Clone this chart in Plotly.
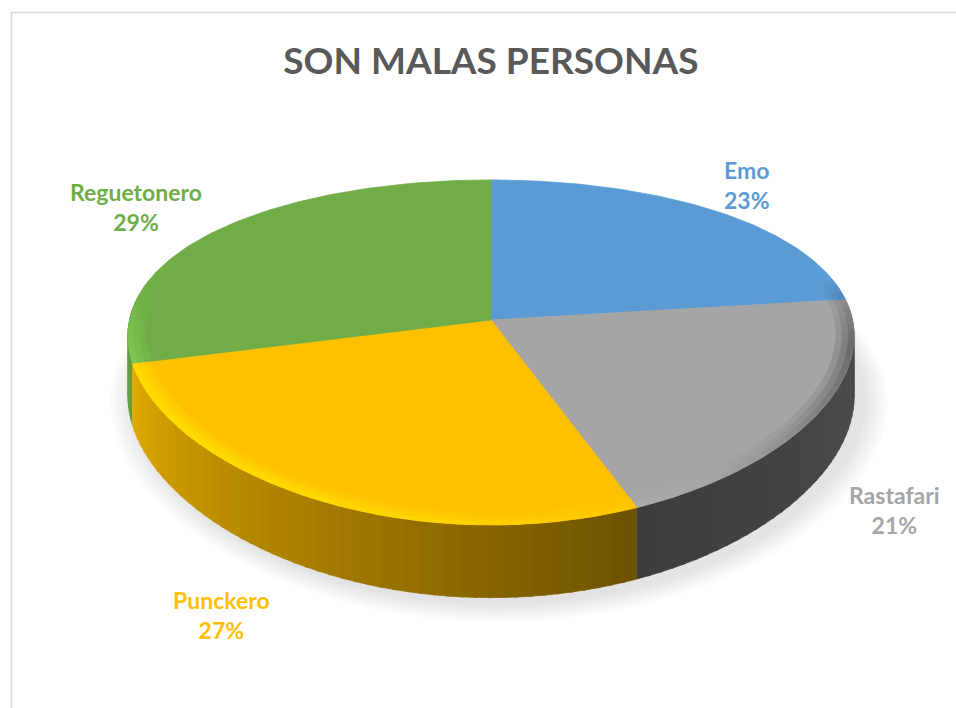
import numpy as np
import plotly.graph_objects as go

# ---- data ----
categories = ["Emo", "Rastafari", "Punckero", "Reguetonero"]
values = [23, 21, 27, 29]
colors = ["#5B9BD5", "#A5A5A5", "#FFC000", "#70AD47"]
title_text = "SON MALAS PERSONAS"

# ---- geometry / style ----
W, H = 956, 708
CX, CY = 491, 320          # projected pie centre (top face)
RX, RY = 361.5, 166.4      # radii of the top face
KX, KY = 0.094, 0.188      # perspective factors
DEPTH = 59                 # thickness of the pie
label_nudge = [(-9, 13), (2, -9), (-24, -4), (3, 16)]


def proj(phi_deg, r=1.0, h=0.0):
    p = np.radians(phi_deg)
    X = r * np.sin(p)
    Z = r * np.cos(p)
    sx = 1.0 / (1.0 + KX * Z)
    sy = 1.0 / (1.0 + KY * Z)
    return CX + RX * X * sx, CY - RY * Z * sy + h * sy


def rgb(hexcol):
    h = hexcol.lstrip("#")
    return [int(h[i:i + 2], 16) for i in (0, 2, 4)]


def shade(hexcol, f):
    c = [min(255, v * f) for v in rgb(hexcol)]
    return "rgb(%d,%d,%d)" % tuple(int(round(v)) for v in c)


def side_factor(phi):
    if phi < 158:
        return 0.37 + 0.10 * (158 - phi) / 68.0
    return min(0.9, 0.42 + 0.48 * (phi - 158) / 100.0)


total = float(sum(values))
bounds = [0.0]
for v in values:
    bounds.append(bounds[-1] + 360.0 * v / total)

fig = go.Figure()

# soft shadow under the pie
for i in range(7):
    grow = 1.0 + 0.01 * (i + 1)
    ph = np.linspace(0, 360, 181)
    xs, ys = proj(ph, grow, DEPTH + 4)
    xs = xs + 8
    fig.add_trace(go.Scatter(x=list(xs), y=list(ys), mode="lines", fill="toself",
                             fillcolor="rgba(0,0,0,0.016)", line=dict(width=0),
                             hoverinfo="skip", showlegend=False))

# side walls (back to front)
strips = []
step = 2.0
for i, (a0, a1) in enumerate(zip(bounds[:-1], bounds[1:])):
    lo, hi = max(a0, 84.0), min(a1, 276.0)
    if hi <= lo:
        continue
    n = max(1, int(np.ceil((hi - lo) / step)))
    edges = np.linspace(lo, hi, n + 1)
    for e0, e1 in zip(edges[:-1], edges[1:]):
        ph = np.linspace(e0 - 0.2 if e0 > lo else e0, e1 + 0.2 if e1 < hi else e1, 4)
        tx, ty = proj(ph, 1.0, 0.0)
        bx, by = proj(ph[::-1], 1.0, DEPTH)
        xs = list(tx) + list(bx)
        ys = list(ty) + list(by)
        mid = 0.5 * (e0 + e1)
        col = shade(colors[i], side_factor(mid))
        strips.append((np.cos(np.radians(mid)), xs, ys, col))

strips.sort(key=lambda t: -t[0])
for _, xs, ys, col in strips:
    fig.add_trace(go.Scatter(x=xs, y=ys, mode="lines", fill="toself", fillcolor=col,
                             line=dict(width=0.8, color=col), hoverinfo="skip",
                             showlegend=False))

# top faces
for i, (a0, a1) in enumerate(zip(bounds[:-1], bounds[1:])):
    ph = np.linspace(a0, a1, 80)
    rx, ry = proj(ph, 1.0, 0.0)
    xs = [CX] + list(rx) + [CX]
    ys = [CY] + list(ry) + [CY]
    fig.add_trace(go.Scatter(x=xs, y=ys, mode="lines", fill="toself", fillcolor=colors[i],
                             line=dict(width=0.8, color=colors[i]),
                             name=categories[i], hoverinfo="name", showlegend=False))

# bevel band on the rim of the top face
rings = [0.95, 0.967, 0.984, 1.0]
for i, (a0, a1) in enumerate(zip(bounds[:-1], bounds[1:])):
    lo, hi = max(a0, 75.0), min(a1, 285.0)
    if hi <= lo:
        continue
    n = max(1, int(np.ceil((hi - lo) / 3.0)))
    edges = np.linspace(lo, hi, n + 1)
    for e0, e1 in zip(edges[:-1], edges[1:]):
        mid = 0.5 * (e0 + e1)
        light = np.cos(np.radians(mid - 235.0))
        fade = min(1.0, min(mid - 75.0, 285.0 - mid) / 25.0)
        for j in range(3):
            t = (j + 1) / 3.0
            amp = 0.14 if light > 0 else 0.5
            f = 1.0 + amp * t * light * fade
            col = shade(colors[i], f)
            ph = np.linspace(e0 - 0.15 if e0 > lo else e0, e1 + 0.15 if e1 < hi else e1, 4)
            ix, iy = proj(ph, rings[j], 0.0)
            ox, oy = proj(ph[::-1], rings[j + 1], 0.0)
            fig.add_trace(go.Scatter(x=list(ix) + list(ox), y=list(iy) + list(oy),
                                     mode="lines", fill="toself", fillcolor=col,
                                     line=dict(width=0.5, color=col),
                                     hoverinfo="skip", showlegend=False))

# data labels
annotations = []
for i, (a0, a1) in enumerate(zip(bounds[:-1], bounds[1:])):
    mid = 0.5 * (a0 + a1)
    front = np.cos(np.radians(mid)) < 0
    lx, ly = proj(mid, 1.08, DEPTH if front else 0.0)
    sn = np.sin(np.radians(mid))
    xanchor = "left" if sn > 0.3 else ("right" if sn < -0.3 else "center")
    pct = "%d%%" % round(100 * values[i] / total)
    annotations.append(dict(
        x=lx + label_nudge[i][0], y=ly + label_nudge[i][1], xref="x", yref="y",
        text="<b>%s</b><br><b>%s</b>" % (categories[i], pct),
        showarrow=False, xanchor=xanchor, yanchor="top" if front else "bottom",
        align="center", font=dict(family="Lato", size=23, color=colors[i])))

fig.update_layout(
    width=W, height=H,
    margin=dict(l=0, r=0, t=0, b=0),
    paper_bgcolor="white", plot_bgcolor="white",
    xaxis=dict(range=[0, W], visible=False, fixedrange=True),
    yaxis=dict(range=[H, 0], visible=False, fixedrange=True),
    title=dict(text="<b>%s</b>" % title_text, x=0.5135, xanchor="center",
               y=1 - 61 / H, yanchor="middle", yref="container",
               font=dict(family="Lato", size=37, color="#595959")),
    annotations=annotations,
    shapes=[dict(type="rect", xref="x", yref="y", x0=11.5, y0=12.5, x1=W + 40, y1=H + 40,
                 line=dict(color="#D9D9D9", width=1.5), fillcolor="rgba(0,0,0,0)",
                 layer="below")],
    showlegend=False,
)

fig.write_html("out.html", config={"displayModeBar": False},
               post_script="document.body.style.margin='0';"
                           "document.body.style.overflow='hidden';")
